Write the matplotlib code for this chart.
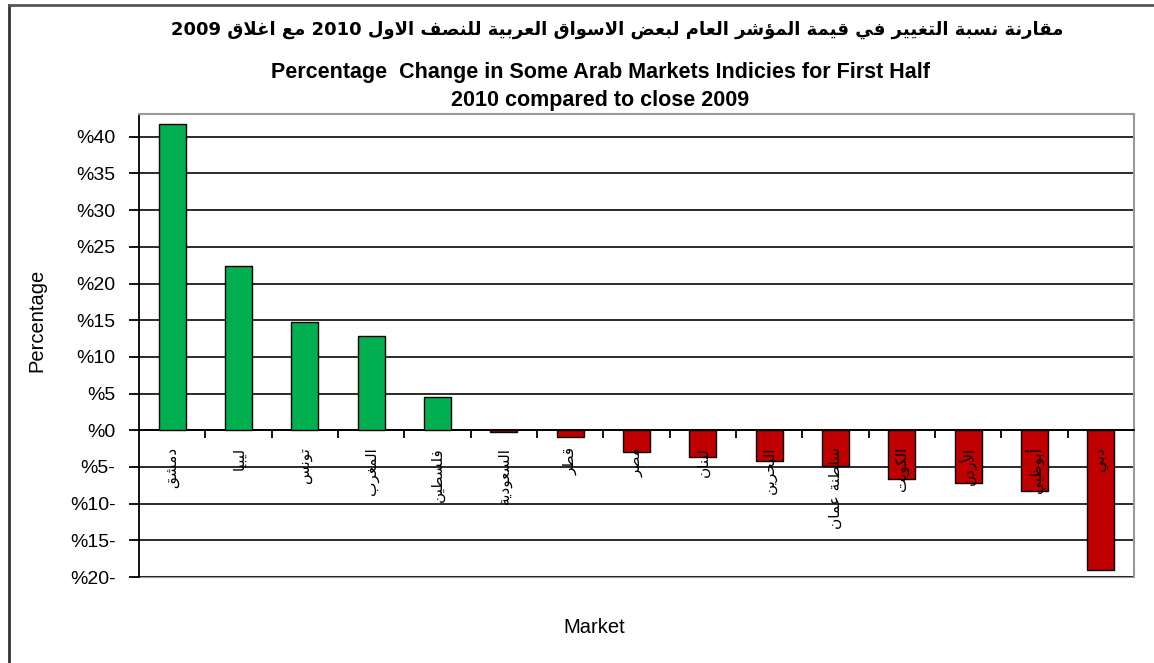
import re

import matplotlib
matplotlib.use("Agg")
from matplotlib import pyplot as plt
from matplotlib.lines import Line2D
from matplotlib.patches import Rectangle

plt.rcParams['font.family'] = ['Liberation Sans', 'DejaVu Sans']

title_ar = "مقارنة نسبة التغيير في قيمة المؤشر العام لبعض الاسواق العربية للنصف الاول 2010 مع اغلاق 2009"
title_en = ["Percentage  Change in Some Arab Markets Indicies for First Half",
            "2010 compared to close 2009"]
markets = ["دمشق", "ليبيا", "تونس", "المغرب", "فلسطين", "السعودية", "قطر", "مصر",
           "لبنان", "البحرين", "سلطنة عمان", "الكويت", "الأردن", "أبوظبي", "دبي"]
changes = [41.7, 22.4, 14.7, 12.8, 4.6, -0.3, -0.9, -2.9,
           -3.7, -4.2, -4.9, -6.7, -7.2, -8.3, -19.0]
y_ticks = [-20, -15, -10, -5, 0, 5, 10, 15, 20, 25, 30, 35, 40]
y_tick_labels = ["%20-", "%15-", "%10-", "%5-", "%0", "%5", "%10", "%15",
                 "%20", "%25", "%30", "%35", "%40"]

# matplotlib does no arabic shaping, so pick the presentation forms by hand
RIGHT_JOIN = {'آ': 0xFE81, 'أ': 0xFE83, 'ؤ': 0xFE85, 'إ': 0xFE87, 'ا': 0xFE8D,
              'ة': 0xFE93, 'د': 0xFEA9, 'ذ': 0xFEAB, 'ر': 0xFEAD, 'ز': 0xFEAF,
              'و': 0xFEED, 'ى': 0xFEEF}
DUAL_JOIN = {'ئ': 0xFE89, 'ب': 0xFE8F, 'ت': 0xFE95, 'ث': 0xFE99, 'ج': 0xFE9D,
             'ح': 0xFEA1, 'خ': 0xFEA5, 'س': 0xFEB1, 'ش': 0xFEB5, 'ص': 0xFEB9,
             'ض': 0xFEBD, 'ط': 0xFEC1, 'ظ': 0xFEC5, 'ع': 0xFEC9, 'غ': 0xFECD,
             'ف': 0xFED1, 'ق': 0xFED5, 'ك': 0xFED9, 'ل': 0xFEDD, 'م': 0xFEE1,
             'ن': 0xFEE5, 'ه': 0xFEE9, 'ي': 0xFEF1}
LAM_ALEF = {'آ': 0xFEF5, 'أ': 0xFEF7, 'إ': 0xFEF9, 'ا': 0xFEFB}


def shape(text):
    out = []
    i = 0
    while i < len(text):
        c = text[i]
        prev = text[i - 1] if i > 0 else ''
        joins_prev = prev in DUAL_JOIN
        if c == 'ل' and i + 1 < len(text) and text[i + 1] in LAM_ALEF:
            out.append(chr(LAM_ALEF[text[i + 1]] + joins_prev))
            i += 2
            continue
        nxt = text[i + 1] if i + 1 < len(text) else ''
        joins_next = c in DUAL_JOIN and (nxt in DUAL_JOIN or nxt in RIGHT_JOIN)
        if c in DUAL_JOIN:
            base = DUAL_JOIN[c]
            if joins_prev and joins_next:
                out.append(chr(base + 3))
            elif joins_prev:
                out.append(chr(base + 1))
            elif joins_next:
                out.append(chr(base + 2))
            else:
                out.append(chr(base))
        elif c in RIGHT_JOIN:
            out.append(chr(RIGHT_JOIN[c] + joins_prev))
        else:
            out.append(c)
        i += 1
    visual = ''.join(out)[::-1]
    return re.sub(r'\d+', lambda m: m.group(0)[::-1], visual)


fig = plt.figure(figsize=(11.54, 6.63), dpi=100)
ax = fig.add_axes([0.1205, 0.1297, 0.8622, 0.6983])

x = list(range(len(markets)))
colors = ['#00B050' if v >= 0 else '#C00000' for v in changes]
ax.bar(x, changes, width=0.41, color=colors, edgecolor='black', linewidth=1, zorder=3)

ax.set_xlim(-0.5, len(markets) - 0.5)
ax.set_ylim(-20, 43.1)
ax.set_yticks(y_ticks)
ax.set_yticklabels(y_tick_labels, fontsize=14)
ax.yaxis.grid(True, color='#1a1a1a', linewidth=1.3, zorder=1)
ax.tick_params(axis='y', direction='out', length=7, width=1.3, pad=10)

# category axis sits at zero, ticks between the bars
ax.spines['bottom'].set_position(('data', 0))
ax.spines['bottom'].set_linewidth(1.3)
ax.set_xticks([i + 0.5 for i in x[:-1]])
ax.set_xticklabels([])
ax.tick_params(axis='x', direction='out', length=6, width=1.3)
ax.spines['left'].set_linewidth(1.3)
for side in ['top', 'right']:
    ax.spines[side].set_color('#999999')
    ax.spines[side].set_linewidth(1.5)
ax.add_patch(Rectangle((0, 0), 1, 0, transform=ax.transAxes, fill=False,
                       edgecolor='#999999', linewidth=1.5, clip_on=False))

for i, name in enumerate(markets):
    ax.annotate(shape(name), (i, 0), xytext=(0, -12), textcoords='offset points',
                rotation=90, ha='center', va='top', fontsize=11,
                family=['DejaVu Sans'], zorder=5)

fig.text(0.535, 0.955, shape(title_ar), ha='center', va='center', fontsize=13,
         fontweight='bold', family=['DejaVu Sans'])
fig.text(0.520, 0.890, title_en[0], ha='center', va='center', fontsize=15.5,
         fontweight='bold')
fig.text(0.520, 0.848, title_en[1], ha='center', va='center', fontsize=15.5,
         fontweight='bold')
fig.text(0.032, 0.517, "Percentage", rotation=90, ha='center', va='center', fontsize=14.5)
fig.text(0.515, 0.053, "Market", ha='center', va='center', fontsize=14.5)

fig.add_artist(Line2D([0.008, 0.008], [0, 0.993], color='#333333', linewidth=2))
fig.add_artist(Line2D([0.008, 1], [0.993, 0.993], color='#555555', linewidth=2))

fig.savefig("out.png", dpi=100)
